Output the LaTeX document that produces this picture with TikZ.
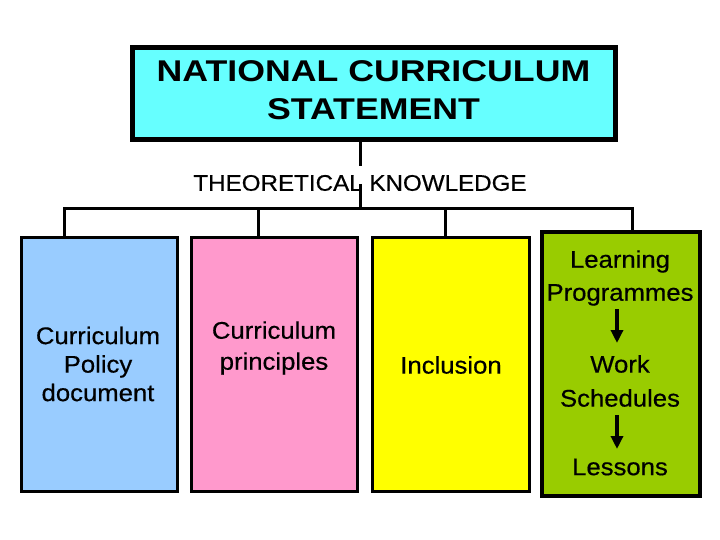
\documentclass[tikz,border=0pt]{standalone}
\usepackage{fontspec}
\setmainfont{Liberation Sans}
\newfontfamily\titlefont{Liberation Sans}[FakeStretch=1.19]
\newfontfamily\bodyfont{Liberation Sans}[FakeStretch=1.07,FakeBold=0.5]
\usetikzlibrary{arrows.meta}
\definecolor{ncscyan}{HTML}{66FFFF}
\definecolor{ncsblue}{HTML}{99CCFF}
\definecolor{ncspink}{HTML}{FF99CC}
\definecolor{ncsyellow}{HTML}{FFFF00}
\definecolor{ncsgreen}{HTML}{99CC00}
\tikzset{
  panel/.style={draw=black, line width=3pt},
  conn/.style={draw=black, line width=3pt},
  flow/.style={draw=black, line width=3.4pt, -{Triangle[length=13pt,width=12pt]}},
  body/.style={font=\bodyfont\fontsize{24}{30}\selectfont, align=center, inner sep=0pt, text=black},
}
\begin{document}
\begin{tikzpicture}[x=1pt,y=-1pt]
\useasboundingbox (0,0) rectangle (720,540);
% title box
\draw[draw=black, fill=ncscyan, line width=5pt] (132.5,47.5) rectangle (615,139.5);
\node[font=\titlefont\bfseries\fontsize{30}{38}\selectfont, align=center, inner sep=0pt] (title) at (373.5,90) {NATIONAL CURRICULUM\\STATEMENT};
\coordinate (tb) at (360,141);
\coordinate (t1) at (360,166);
\node[font=\bodyfont\fontsize{22.6}{26}\selectfont, inner sep=0pt] (theory) at (360,183) {THEORETICAL KNOWLEDGE};
\coordinate (t2) at (360,184);
\coordinate (bar) at (360,208.5);
\coordinate (bl) at (64,208.5);
\coordinate (br) at (632,208.5);
% panels
\draw[panel, fill=ncsblue] (21.5,237.5) rectangle (177.5,491);
\draw[panel, fill=ncspink] (191.5,237.5) rectangle (357.5,491);
\draw[panel, fill=ncsyellow] (372.5,237.5) rectangle (529.5,491);
\draw[draw=black, fill=ncsgreen, line width=4pt] (542,232) rectangle (700,496);
\coordinate (p1) at (64,237.5);
\coordinate (p2) at (258,237.5);
\coordinate (p3) at (445,237.5);
\coordinate (p4) at (632,232);
% connectors
\draw[conn] (tb) -- (t1);
\draw[conn] (t2) -- (bar);
\draw[conn, line cap=rect] (bl) -- (br);
\draw[conn] (64,208.5) -- (p1);
\draw[conn] (258,208.5) -- (p2);
\draw[conn] (445,208.5) -- (p3);
\draw[conn] (632,208.5) -- (p4);
% panel texts
\node[body, font=\bodyfont\fontsize{24}{28.5}\selectfont] (policy) at (98,364) {Curriculum\\Policy\\document};
\node[body, font=\bodyfont\fontsize{24}{31}\selectfont] (principles) at (274,348) {Curriculum\\principles};
\node[body, font=\bodyfont\fontsize{24}{28}\selectfont] (inclusion) at (451,365) {Inclusion};
\node[body, font=\bodyfont\fontsize{24}{33}\selectfont] (lp) at (620,278) {Learning\\Programmes};
\node[body, font=\bodyfont\fontsize{24}{34}\selectfont] (ws) at (620,381) {Work\\Schedules};
\node[body, font=\bodyfont\fontsize{24}{28}\selectfont] (les) at (620,467) {Lessons};
\coordinate (a1s) at (617,309);
\coordinate (a1e) at (617,343);
\coordinate (a2s) at (617,415);
\coordinate (a2e) at (617,449);
\draw[flow] (a1s) -- (a1e);
\draw[flow] (a2s) -- (a2e);
\end{tikzpicture}
\end{document}
